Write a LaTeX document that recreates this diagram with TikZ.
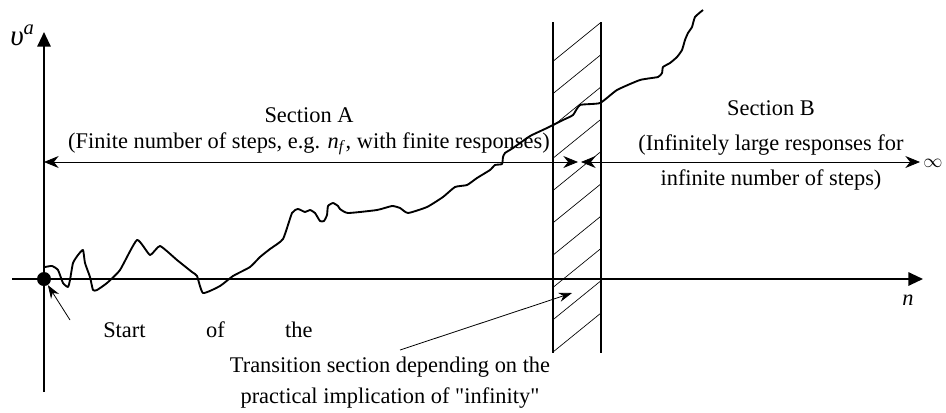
\documentclass[tikz,border=0pt]{standalone}
\usepackage{fontspec}
\setmainfont{Liberation Serif}
\newfontfamily\quotefont{Liberation Serif}
\usetikzlibrary{arrows.meta,positioning}

\begin{document}
\begin{tikzpicture}[
  x=0.75pt, y=-0.75pt,
  axis/.style={line width=1.5pt, -{Triangle[length=11pt,width=10pt]}},
  span/.style={line width=0.6pt, {Stealth[length=11pt,width=9pt]}-{Stealth[length=11pt,width=9pt]}},
  ptr/.style={line width=0.6pt, -{Stealth[length=10pt,width=7pt]}},
  wall/.style={line width=1.5pt},
  hatch/.style={line width=0.5pt},
  resp/.style={line width=1.4pt, line join=round},
  lbl/.style={font=\fontsize{16.8}{20}\selectfont, inner sep=0pt, anchor=base},
  dot/.style={circle, fill, inner sep=0pt, minimum size=10.5pt}
]
\useasboundingbox (0,0) rectangle (946,412);

% axes
\coordinate (ybot) at (44,392);
\coordinate (ytop) at (44,32);
\coordinate (xleft) at (12,279);
\coordinate (xright) at (923,279);
\draw[axis] (ybot) -- (ytop);
\draw[axis] (xleft) -- (xright);
\node[lbl, anchor=base west] (ylab) at (10,45)
  {\fontsize{22}{24}\selectfont\itshape υ\textsuperscript{a}};
\node[lbl] (xlab) at (908,305) {\itshape n};
\node[dot] (start) at (44,279) {};

% transition band
\draw[wall] (553,22) -- (553,353);
\draw[wall] (601,22) -- (601,353);
\foreach \k in {0,...,9}
  \draw[hatch] (553,{352-\k*32.3}) -- ++(48,-39);

% response
\draw[resp] plot[smooth, tension=0.3] coordinates {
  (45,267) (52,266) (58,270) (63,283) (68,287) (70,280) (73,263) (78,255)
  (83,250) (85,263) (90,277) (93,290) (97,290) (107,283) (120,270) (137,240)
  (150,255) (160,246) (177,260) (192,272) (197,276) (203,293) (220,286)
  (233,276) (250,267) (260,257) (270,249) (283,239) (292,213) (298,209)
  (305,212) (310,210) (315,213) (320,221) (324,221) (327,215) (328,206)
  (333,203) (338,206) (340,209) (348,213) (377,210) (392,206) (400,208)
  (408,213) (427,207) (443,197) (455,187) (467,185) (477,178) (490,170)
  (495,165) (502,164) (503,157) (505,153) (513,148) (527,138) (532,135)
  (547,128) (553,125) (563,120) (573,115) (580,105) (600,103) (617,90)
  (640,80) (658,77) (662,73) (663,67) (670,63) (677,57) (682,50) (685,40)
  (688,33) (692,27) (695,17) (703,10)};

% sections
\coordinate (aleft) at (44,162);
\coordinate (aright) at (578,162);
\coordinate (bleft) at (581,162);
\coordinate (bright) at (920,162);
\draw[span] (aleft) -- (aright);
\draw[span] (bleft) -- (bright);
\node[lbl, anchor=west, font=\fontsize{15}{18}\selectfont] (inf) at (923,163) {$\infty$};

\node[lbl] (secA) at (309,122) {Section A};
\node[lbl] (secAtxt) at (309,148)
  {(Finite number of steps, e.g. \textit{n}\textsubscript{\textit{f}}, with finite responses)};
\node[lbl] (secB) at (771,115) {Section B};
\node[lbl] (secBtxt) at (771,150) {(Infinitely large responses for};
\node[lbl] (secBtxt2) at (771,185) {infinite number of steps)};

% pointers
\node[lbl, anchor=base west] (startlbl) at (103,337)
  {\hbox to 157pt{Start\hfill of\hfill the}};
\coordinate (starttail) at (70,320);
\draw[ptr] (starttail) -- (start);

\node[lbl] (trans) at (390,372) {Transition section depending on the};
\node[lbl] (trans2) at (390,403) {practical implication of {\quotefont"}infinity{\quotefont"}};
\coordinate (transtail) at (400,350);
\coordinate (transtip) at (572,293);
\draw[ptr] (transtail) -- (transtip);
\end{tikzpicture}
\end{document}
